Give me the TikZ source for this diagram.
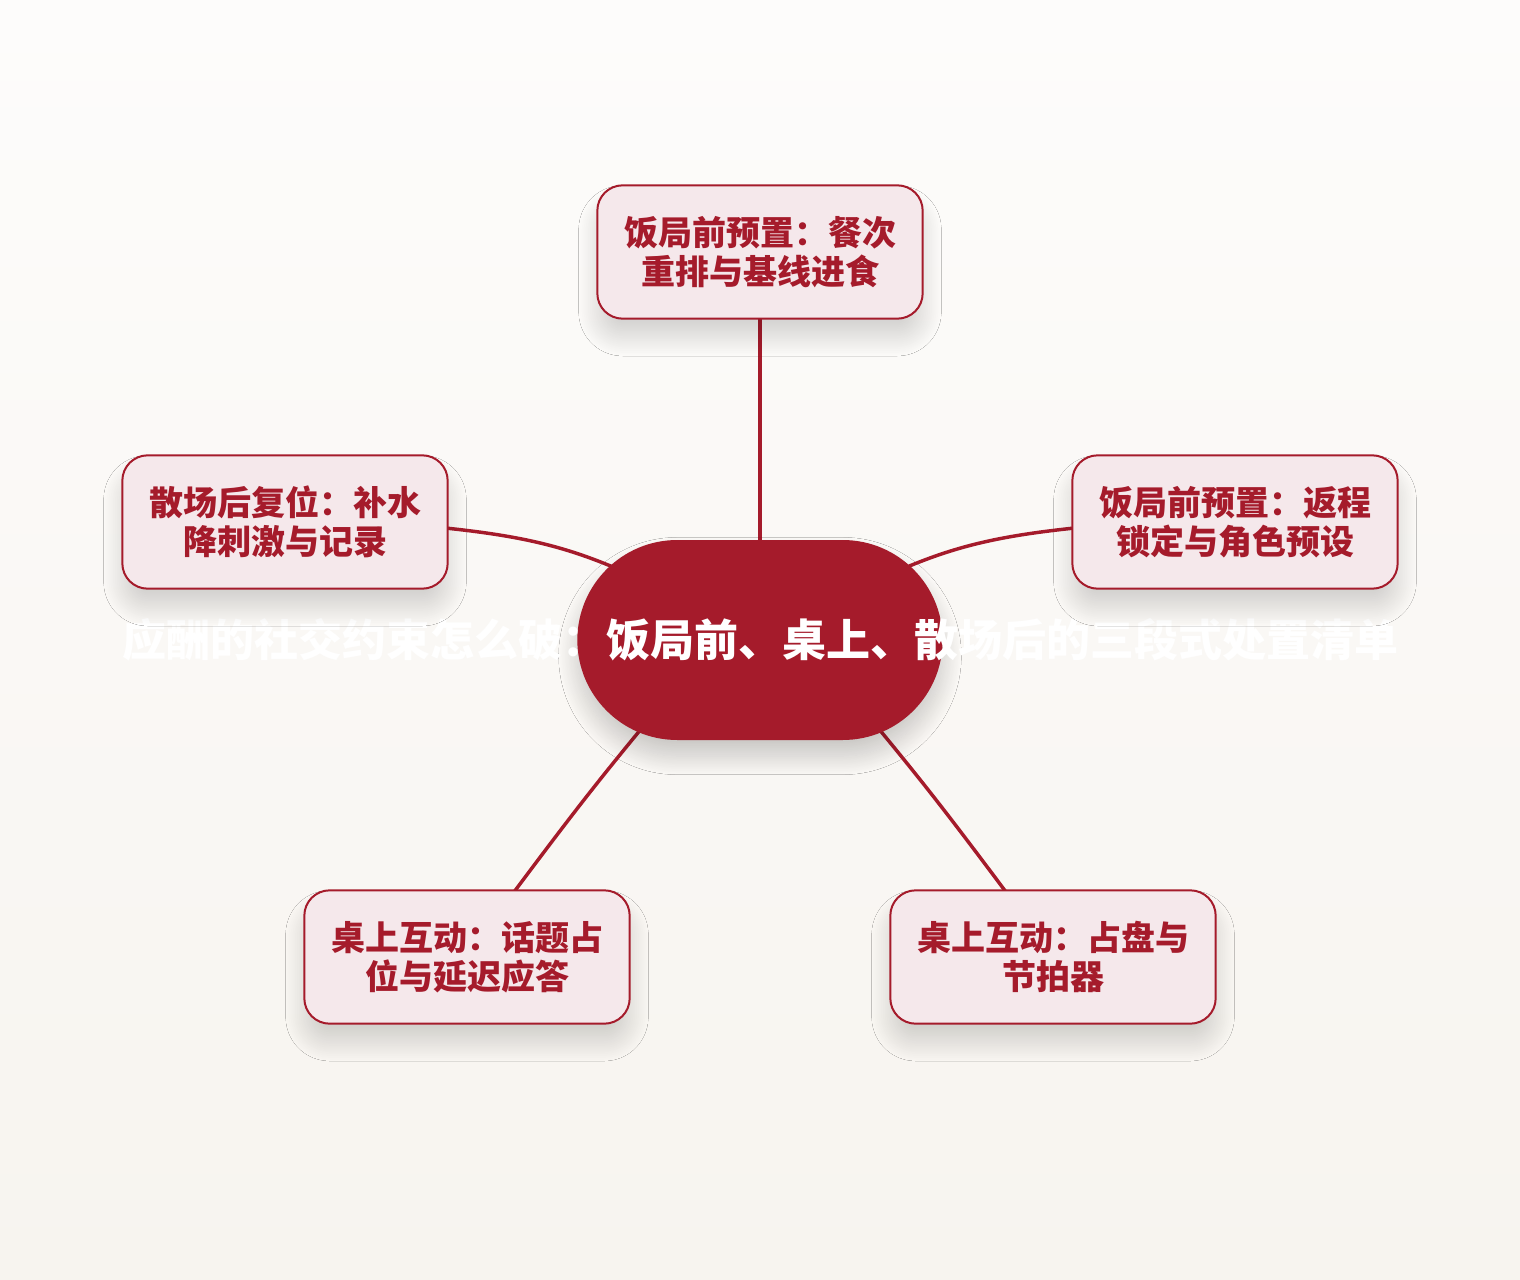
\documentclass[tikz,border=0pt]{standalone}
\usepackage{fontspec}
\newfontfamily\cjk{Noto Sans CJK SC}
\usepackage{tikz}
\usetikzlibrary{shadows.blur}
\usepackage{xcolor}
\definecolor{wine}{HTML}{A51B2B}
\definecolor{blush}{HTML}{F5E8EB}
\definecolor{paper}{HTML}{FDFCFB}
\definecolor{sand}{HTML}{F7F4EF}
\tikzstyle{hub} = [fill=wine, draw=none, rectangle, rounded corners=75pt, minimum width=274pt, minimum height=150pt, blur shadow={shadow xshift=0pt, shadow yshift=-12pt, shadow blur radius=14pt, shadow blur steps=30, shadow opacity=20}]
\tikzstyle{hubtitle} = [text=white, font=\cjk\bfseries\fontsize{33pt}{38pt}\selectfont]
\tikzstyle{leaf} = [draw=wine, fill=blush, line width=1.5pt, rectangle, rounded corners=19pt, minimum width=244pt, minimum height=100pt, align=center, text=wine, font=\cjk\bfseries\fontsize{25.5pt}{29pt}\selectfont, blur shadow={shadow xshift=0pt, shadow yshift=-14pt, shadow blur radius=14pt, shadow blur steps=30, shadow opacity=16}]
\tikzstyle{link} = [draw=wine, line width=2.6pt, line cap=round]

\begin{document}
\begin{tikzpicture}[x=0.75pt,y=-0.75pt]
\shade[top color=paper, bottom color=sand] (0,0) rectangle (1520,1280);
\useasboundingbox (0,0) rectangle (1520,1280);
% connectors first, nodes cover their ends
\path (760,640) coordinate (mid);
\draw[link] (mid) -- (760,250);
\draw[link] (mid) .. controls (560,535) .. (285,515);
\draw[link] (mid) .. controls (960,535) .. (1235,515);
\draw[link] (715,640) .. controls (590,790) .. (467,955);
\draw[link] (805,640) .. controls (930,790) .. (1053,955);
\node[hub, label={[hubtitle]center:应酬的社交约束怎么破：饭局前、桌上、散场后的三段式处置清单}] (hub) at (mid) {};
\node[leaf] (before) at (760,252) {饭局前预置：餐次\\重排与基线进食};
\node[leaf] (after) at (285,522) {散场后复位：补水\\降刺激与记录};
\node[leaf] (route) at (1235,522) {饭局前预置：返程\\锁定与角色预设};
\node[leaf] (topic) at (467,957) {桌上互动：话题占\\位与延迟应答};
\node[leaf] (pace) at (1053,957) {桌上互动：占盘与\\节拍器};
\end{tikzpicture}
\end{document}
